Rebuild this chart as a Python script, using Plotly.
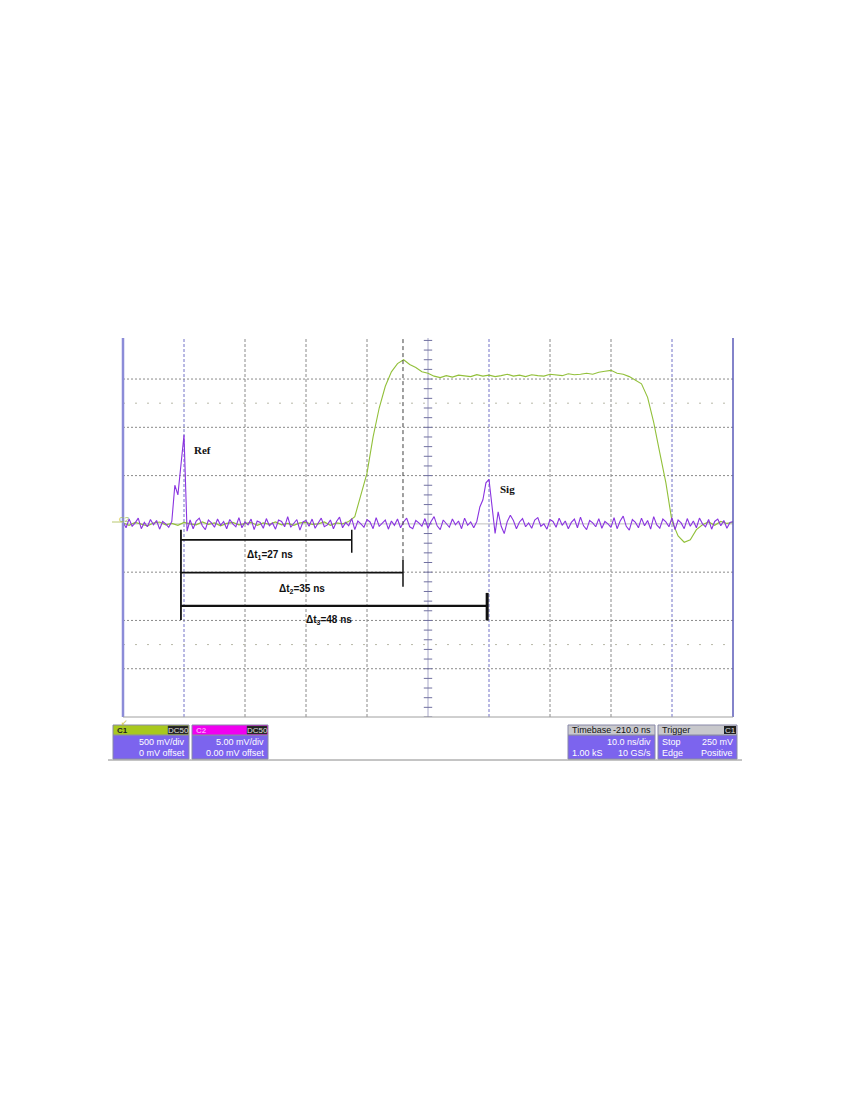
import numpy as np
import plotly.graph_objects as go

# ---------------- DATA ----------------
# Channel 1 (green), 1 ns sampling, values in divisions (500 mV/div)
c1_step_ns = 1.0
c1_values = [
    0.02, -0.03, 0.03, 0.0, -0.04, 0.02, 0.04, -0.02, 0.01, -0.03,
    0.03, 0.0, -0.02, 0.04, -0.01, 0.02, -0.04, 0.01, 0.03, -0.02,
    0.0, 0.03, -0.03, 0.02, -0.01, 0.04, -0.02, 0.01, -0.03, 0.02,
    0.03, -0.01, 0.0, 0.04, -0.03, 0.02, 0.0, 0.05,
    0.15, 0.6, 1.05, 1.8, 2.4, 2.85, 3.15, 3.32, 3.4, 3.3,
    3.24, 3.15, 3.12, 3.06, 3.03,
    3.07, 3.04, 3.08, 3.06, 3.05, 3.09, 3.06, 3.08, 3.05, 3.07,
    3.1, 3.06, 3.08, 3.05, 3.09, 3.07, 3.06, 3.1, 3.08, 3.07,
    3.11, 3.09, 3.1, 3.12, 3.1, 3.14, 3.16,
    3.18, 3.12, 3.1, 3.05, 2.98, 2.9, 2.62, 2.1, 1.47, 0.85,
    0.05, -0.25, -0.38, -0.33, -0.12, -0.02, 0.04, -0.03, 0.05, 0.01,
    0.03,
]

# Channel 2 (purple), 0.5 ns sampling, values in divisions
c2_step_ns = 0.5
c2_noise_a = [0.04, -0.08, 0.1, -0.05, 0.02, 0.12, -0.1, 0.03, -0.06, 0.09,
              -0.02, 0.07, -0.11, 0.05, 0.0, -0.07]
c2_ref_pulse = [0.05, 0.8, 0.6, 1.2, 1.84, -0.15, 0.08]
c2_noise_b = [
    -0.1, 0.06, 0.12, -0.04, -0.12, 0.08, 0.02, -0.07, 0.1, -0.03,
    0.05, -0.1, 0.09, 0.0, -0.06, 0.13, -0.08, 0.04, -0.02, 0.1,
    -0.12, 0.06, 0.03, -0.09, 0.11, -0.04, 0.02, -0.11, 0.08, 0.05,
    -0.06, 0.15, -0.07, 0.0, 0.09, -0.13, 0.04, 0.07, -0.05, 0.1,
    -0.09, 0.02, 0.12, -0.06, -0.02, 0.08, -0.1, 0.05, 0.14, -0.08,
    0.03, -0.04, 0.11, -0.12, 0.06, 0.0, -0.07, 0.09, 0.04, -0.1,
    0.13, -0.05, 0.02, 0.08, -0.11, 0.06, -0.03, 0.1, -0.08, 0.04,
    0.12, -0.06, -0.1, 0.07, 0.02, -0.05, 0.11, -0.09, 0.05, 0.15,
    -0.04, -0.12, 0.08, 0.01, -0.07, 0.1, -0.02, 0.06, -0.1, 0.12,
    -0.03, 0.04, -0.08,
]
c2_sig_pulse = [0.05, 0.35, 0.5, 0.85, 0.92, 0.35, -0.2, 0.25, -0.05, -0.2, 0.05, 0.18]
c2_noise_c = [
    0.07, -0.1, 0.04, 0.11, -0.06, 0.02, -0.09, 0.08, 0.13, -0.05,
    0.0, -0.11, 0.09, 0.05, -0.07, 0.12, -0.03, 0.06, -0.1, 0.03,
    0.1, -0.08, 0.14, -0.04, -0.12, 0.07, 0.02, -0.06, 0.11, -0.09,
    0.05, 0.0, -0.07, 0.13, -0.1, 0.06, 0.16, -0.05, -0.13, 0.09,
    0.03, -0.08, 0.12, -0.04, 0.07, -0.11, 0.15, -0.02, -0.09, 0.1,
    0.04, -0.06, 0.13, -0.12, 0.08, 0.02, -0.1, 0.11, -0.05, 0.06,
    -0.08, 0.12, 0.0, -0.06, 0.09, -0.11, 0.05, 0.1, -0.04, 0.07,
    -0.09, 0.03, 0.05,
]

# Annotations / measurement cursors (ns, div)
peak_labels = ["Ref", "Sig"]
peak_label_t = [13.1, 63.1]
peak_label_v = [1.53, 0.72]
dt_names = ["Δt<sub>1</sub>=27 ns", "Δt<sub>2</sub>=35 ns", "Δt<sub>3</sub>=48 ns"]
dt_start_t = 9.5
dt_end_t = [37.5, 45.9, 59.7]
dt_level = [-0.33, -1.01, -1.70]
overshoot_t = 45.9

# Scope readouts
c1_info = ["C1", "500 mV/div", "0 mV offset"]
c2_info = ["C2", "5.00 mV/div", "0.00 mV offset"]
tb_info = ["Timebase", "-210.0 ns", "10.0 ns/div", "1.00 kS", "10 GS/s"]
trig_info = ["Trigger", "Stop", "250 mV", "Edge", "Positive"]
trigger_level_div = 0.5

# ---------------- BUILD ----------------
c1_t = np.arange(len(c1_values)) * c1_step_ns
c2_values = c2_noise_a + c2_ref_pulse + c2_noise_b + c2_sig_pulse + c2_noise_c
c2_t = np.arange(len(c2_values)) * c2_step_ns

# page has an 8px body margin: figure is placed at (8, 8)
OFF = 8
W, H = 842, 1092
def PX(x):
    return (x - OFF) / W
def PY(y):
    return 1 - (y - OFF) / H

X0, X1, YT, YB = 123, 733, 338, 717
Y_MIN, Y_MAX = -4.0, 3.85

fig = go.Figure()

# center graticule ticks
tick_y = np.arange(-4.0, 3.86, 0.2)
fig.add_trace(go.Scatter(x=[50] * len(tick_y), y=tick_y, mode="markers",
                         marker=dict(symbol="line-ew", size=6,
                                     line=dict(color="#7070a0", width=1)),
                         hoverinfo="skip", showlegend=False))

fig.add_trace(go.Scatter(x=c1_t, y=c1_values, mode="lines",
                         line=dict(color="#92c03a", width=1.1),
                         name="C1", showlegend=False))
fig.add_trace(go.Scatter(x=c2_t, y=c2_values, mode="lines",
                         line=dict(color="#8a34e0", width=1.1),
                         name="C2", showlegend=False))

shapes = []
# vertical graticule
for t in [10, 20, 30, 40, 60, 70, 80, 90]:
    col = "#7272c8" if t in (10, 60, 90) else "#8a8a8a"
    shapes.append(dict(type="line", xref="x", yref="y", x0=t, x1=t, y0=Y_MIN, y1=Y_MAX,
                       line=dict(color=col, width=1, dash="3px,2px"), layer="below"))
shapes.append(dict(type="line", xref="x", yref="y", x0=50, x1=50, y0=Y_MIN, y1=Y_MAX,
                   line=dict(color="#a8a8c8", width=1), layer="below"))
# horizontal graticule
for v in [3, 2, 1, -1, -2, -3]:
    shapes.append(dict(type="line", xref="x", yref="y", x0=0, x1=100, y0=v, y1=v,
                       line=dict(color="#8a8a8a", width=1, dash="2px,2px"), layer="below"))
for v in [2.5, -2.5]:
    shapes.append(dict(type="line", xref="x", yref="y", x0=0, x1=100, y0=v, y1=v,
                       line=dict(color="#b8b8a8", width=1, dash="2px,10px"), layer="below"))
shapes.append(dict(type="line", xref="x", yref="y", x0=0, x1=100, y0=0, y1=0,
                   line=dict(color="#c0c0c0", width=1), layer="below"))
# frame
shapes.append(dict(type="line", xref="paper", yref="paper", x0=PX(X0), x1=PX(X0),
                   y0=PY(YB), y1=PY(YT), line=dict(color="#8c8cd8", width=2.5)))
shapes.append(dict(type="line", xref="paper", yref="paper", x0=PX(X1), x1=PX(X1),
                   y0=PY(YB), y1=PY(YT), line=dict(color="#5a5ab8", width=1.5)))
shapes.append(dict(type="line", xref="paper", yref="paper", x0=PX(X0), x1=PX(X1),
                   y0=PY(YB), y1=PY(YB), line=dict(color="#a0a0a0", width=1)))
# overshoot dashed cursor
shapes.append(dict(type="line", xref="x", yref="y", x0=overshoot_t, x1=overshoot_t,
                   y0=-0.75, y1=Y_MAX, line=dict(color="#404040", width=1, dash="4px,3px")))
# delta-t brackets
shapes.append(dict(type="line", xref="x", yref="y", x0=dt_start_t, x1=dt_start_t,
                   y0=-0.12, y1=-1.99, line=dict(color="#111111", width=1.8)))
tick_spans = [(-0.12, -0.6), (-0.75, -1.3), (-1.43, -2.0)]
for i in range(3):
    w = 2.2 if i == 2 else 1.8
    shapes.append(dict(type="line", xref="x", yref="y", x0=dt_start_t, x1=dt_end_t[i],
                       y0=dt_level[i], y1=dt_level[i], line=dict(color="#111111", width=w)))
    shapes.append(dict(type="line", xref="x", yref="y", x0=dt_end_t[i], x1=dt_end_t[i],
                       y0=tick_spans[i][0], y1=tick_spans[i][1],
                       line=dict(color="#111111", width=3 if i == 2 else 1.5)))
dt_label_t = [24.1, 29.3, 33.8]
dt_label_v = [-0.64, -1.35, -1.99]

annotations = []
for i in range(3):
    annotations.append(dict(x=dt_label_t[i], y=dt_label_v[i], xref="x", yref="y",
                            text=dt_names[i], showarrow=False,
                            font=dict(family="Liberation Sans, Arial", size=10,
                                      color="#111", weight="bold")))
for i in range(2):
    annotations.append(dict(x=peak_label_t[i], y=peak_label_v[i], xref="x", yref="y",
                            text=peak_labels[i], showarrow=False,
                            font=dict(family="Liberation Serif, Times New Roman", size=11,
                                      color="#111", weight="bold")))

# left channel marker & right trigger marker
annotations.append(dict(x=PX(117), y=PY(519), xref="paper", yref="paper", text="C2",
                        showarrow=False, font=dict(size=8, color="#98b858",
                                                   family="Liberation Sans")))
shapes.append(dict(type="line", xref="paper", yref="paper", x0=PX(112), x1=PX(123),
                   y0=PY(522), y1=PY(522), line=dict(color="#b8c870", width=1)))
fig.add_trace(go.Scatter(x=[100.7], y=[trigger_level_div], mode="markers",
                         marker=dict(symbol="triangle-left", size=7, color="#9ac020"),
                         cliponaxis=False, hoverinfo="skip", showlegend=False))
annotations.append(dict(x=PX(119), y=PY(721), xref="paper", yref="paper", text="↙",
                        showarrow=False, font=dict(size=8, color="#c8c040")))

# readout boxes
BODY = "#7c64ee"
FONT = "Liberation Sans, Arial"
def box(x0, x1, head_col, badge=True):
    shapes.append(dict(type="rect", xref="paper", yref="paper", x0=PX(x0), x1=PX(x1),
                       y0=PY(759), y1=PY(735), fillcolor=BODY,
                       line=dict(color="#8888a8", width=1)))
    shapes.append(dict(type="rect", xref="paper", yref="paper", x0=PX(x0), x1=PX(x1),
                       y0=PY(735), y1=PY(725), fillcolor=head_col,
                       line=dict(color="#8888a8", width=1)))
    if badge:
        shapes.append(dict(type="rect", xref="paper", yref="paper", x0=PX(x1 - 21),
                           x1=PX(x1 - 1), y0=PY(734), y1=PY(726), fillcolor="#202020",
                           line=dict(color="#404040", width=0.5)))

def txt(x, y, s, anchor="left", color="white", size=9, weight="normal"):
    annotations.append(dict(x=PX(x), y=PY(y), xref="paper", yref="paper", text=s,
                            showarrow=False, xanchor=anchor, yanchor="middle",
                            font=dict(family=FONT, size=size, color=color, weight=weight)))

box(113, 189, "#a8c81e")
txt(115, 730, c1_info[0], color="#202020", size=8, weight="bold")
txt(178, 730, "DC50", anchor="center", color="#e0e0e0", size=8)
txt(187, 742, c1_info[1], anchor="right")
txt(187, 753, c1_info[2], anchor="right")

box(192, 268, "#f000f0")
txt(194, 730, c2_info[0], color="#ff9cff", size=8, weight="bold")
txt(257, 730, "DC50", anchor="center", color="#e0e0e0", size=8)
txt(266, 742, c2_info[1], anchor="right")
txt(266, 753, c2_info[2], anchor="right")

box(568, 655, "#c8c8cc", badge=False)
txt(570, 730, tb_info[0], color="#111", size=9)
txt(653, 730, tb_info[1], anchor="right", color="#111", size=9)
txt(653, 742, tb_info[2], anchor="right")
txt(570, 753, tb_info[3])
txt(653, 753, tb_info[4], anchor="right")

box(658, 737, "#c8c8cc", badge=False)
shapes.append(dict(type="rect", xref="paper", yref="paper", x0=PX(724), x1=PX(736),
                   y0=PY(734), y1=PY(726), fillcolor="#202020", line=dict(width=0)))
txt(660, 730, trig_info[0], color="#111", size=9)
txt(730, 730, "C1", anchor="center", color="#e0e0e0", size=8)
txt(660, 742, trig_info[1])
txt(735, 742, trig_info[2], anchor="right")
txt(660, 753, trig_info[3])
txt(735, 753, trig_info[4], anchor="right")

shapes.append(dict(type="line", xref="paper", yref="paper", x0=PX(108), x1=PX(742),
                   y0=PY(760), y1=PY(760), line=dict(color="#8a8a8a", width=1)))

fig.update_layout(
    width=W, height=H, margin=dict(l=0, r=0, t=0, b=0),
    paper_bgcolor="white", plot_bgcolor="white",
    xaxis=dict(domain=[PX(X0), PX(X1)], range=[0, 100], visible=False, fixedrange=True),
    yaxis=dict(domain=[PY(YB), PY(YT)], range=[Y_MIN, Y_MAX], visible=False, fixedrange=True),
    shapes=shapes, annotations=annotations, showlegend=False,
)

fig.write_html("out.html")
